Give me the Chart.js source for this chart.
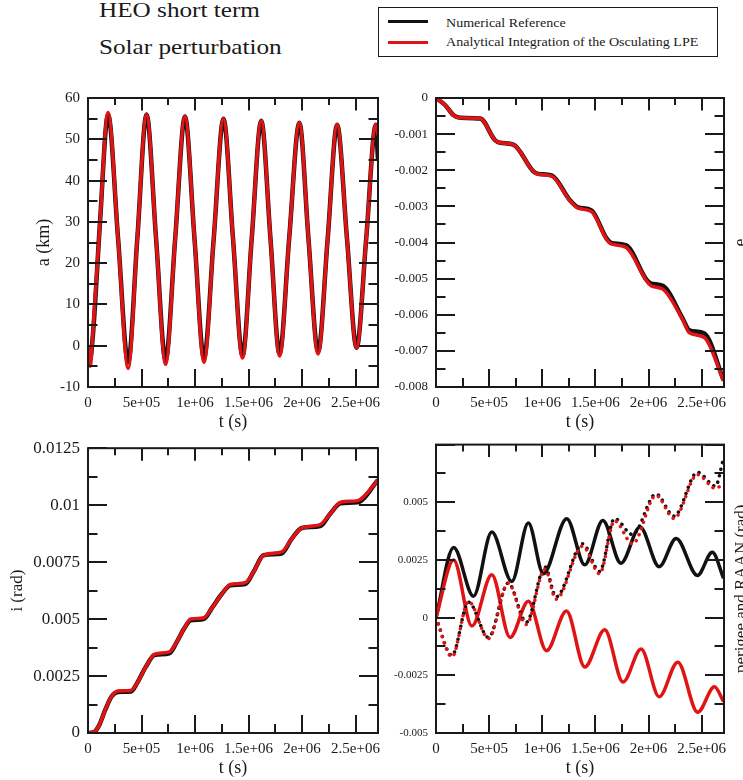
<!DOCTYPE html>
<html><head><meta charset="utf-8">
<script src="https://cdn.jsdelivr.net/npm/chart.js@4.4.1/dist/chart.umd.min.js"></script>
<style>
html,body{margin:0;padding:0;background:#fff;}
#page{position:relative;width:743px;height:780px;overflow:hidden;background:#fff;font-family:'Liberation Serif','Times New Roman',serif;color:#1a1a1a;}
canvas{position:absolute;}
.ttl{position:absolute;left:99px;font-size:21px;line-height:21px;white-space:nowrap;transform:scaleX(1.2);transform-origin:0 0;}
#legend{position:absolute;left:378px;top:7px;width:338px;height:48px;border:1.5px solid #1a1a1a;}
.lg{position:absolute;left:9px;width:40px;height:3px;}
.lt{position:absolute;left:67px;font-size:13px;line-height:13px;white-space:nowrap;transform:scaleX(1.08);transform-origin:0 0;}
</style></head>
<body><div id="page">
<div class="ttl" style="top:0px">HEO short term</div>
<div class="ttl" style="top:37px">Solar perturbation</div>
<div id="legend">
 <div class="lg" style="top:12px;background:#111"></div>
 <div class="lt" style="top:7.5px">Numerical Reference</div>
 <div class="lg" style="top:33px;background:#e01414"></div>
 <div class="lt" style="top:27px">Analytical Integration of the Osculating LPE</div>
</div>
<canvas id="cA" width="390" height="360" style="left:0;top:80px"></canvas>
<canvas id="cE" width="353" height="360" style="left:390px;top:80px"></canvas>
<canvas id="cI" width="390" height="350" style="left:0;top:430px"></canvas>
<canvas id="cP" width="353" height="350" style="left:390px;top:430px"></canvas>
</div>
<script>
// ---------- shared time axis ----------
const tMax = 2.71e6;
const tMajor = [0, 5e5, 1e6, 1.5e6, 2e6, 2.5e6];
const tMinor = [2.5e5, 7.5e5, 1.25e6, 1.75e6, 2.25e6];
const tLabels = ['0', '5e+05', '1e+06', '1.5e+06', '2e+06', '2.5e+06'];

// ---------- panel a (km) ----------
const aMajor = [-10, 0, 10, 20, 30, 40, 50, 60];
const aMinor = [-5, 5, 15, 25, 35, 45, 55];
const aLabels = ['-10', '0', '10', '20', '30', '40', '50', '60'];
const tA = [0, 2.0e4, 5.0e4, 1.1e5, 1.875e5, 2.81e5, 3.75e5, 4.61e5, 5.47e5, 6.36e5, 7.25e5, 8.15e5, 9.06e5, 9.95e5, 1.084e6, 1.175e6, 1.266e6, 1.355e6, 1.444e6, 1.53e6, 1.619e6, 1.705e6, 1.79e6, 1.88e6, 1.975e6, 2.06e6, 2.15e6, 2.24e6, 2.328e6, 2.42e6, 2.51e6, 2.60e6, 2.69e6, 2.71e6];
const aNum = [0, -3, 4, 29, 56, 26, -4, 26, 56, 26, -3.5, 26, 55.5, 26, -3, 26, 55, 26, -2.5, 26, 54.5, 26, -2, 26, 54, 26, -1.5, 26, 53.5, 26, -0.5, 26, 53.5, 45];
const aAna = [0, -5, 5, 29, 56.5, 26, -5.5, 26, 56, 26, -4.5, 26, 55.5, 26, -4, 26, 55, 26, -3, 26, 54.5, 26, -2.5, 26, 54, 26, -2, 26, 53.5, 26, -0.5, 26, 53.5, 51];

// ---------- panel e ----------
const eMajor = [0, -0.001, -0.002, -0.003, -0.004, -0.005, -0.006, -0.007, -0.008];
const eMinor = [-0.0005, -0.0015, -0.0025, -0.0035, -0.0045, -0.0055, -0.0065, -0.0075];
const eLabels = ['0', '-0.001', '-0.002', '-0.003', '-0.004', '-0.005', '-0.006', '-0.007', '-0.008'];
const tE = [0, 8.75e4, 1.66e5, 2.28e5, 4.16e5, 5.56e5, 6.03e5, 7.28e5, 9.16e5, 9.6e5, 1.0875e6, 1.26e6, 1.3375e6, 1.4625e6, 1.603e6, 1.65e6, 1.79e6, 1.98e6, 2.025e6, 2.134e6, 2.32e6, 2.384e6, 2.525e6, 2.706e6];
const eNum = [0, -0.0002, -0.00048, -0.00055, -0.00057, -0.00117, -0.00124, -0.00129, -0.00203, -0.0021, -0.00214, -0.00283, -0.00303, -0.00311, -0.00388, -0.00401, -0.00408, -0.00503, -0.00514, -0.0052, -0.0061, -0.00643, -0.00652, -0.00781];
const eAna = [0, -0.0002, -0.00048, -0.00055, -0.00057, -0.00117, -0.00124, -0.00129, -0.00203, -0.00211, -0.00216, -0.00284, -0.00305, -0.00314, -0.0039, -0.00404, -0.00414, -0.00506, -0.0052, -0.00529, -0.00613, -0.0065, -0.00663, -0.00783];

// ---------- panel i (rad) ----------
const iMajor = [0, 0.0025, 0.005, 0.0075, 0.01, 0.0125];
const iMinor = [0.00125, 0.00375, 0.00625, 0.00875, 0.01125];
const iLabels = ['0', '0.0025', '0.005', '0.0075', '0.01', '0.0125'];
const tI = [0, 5e4, 1.0e5, 1.6e5, 2.2e5, 2.8e5, 4.0e5, 4.6e5, 5.4e5, 6.2e5, 7.6e5, 8.3e5, 9.0e5, 9.6e5, 1.08e6, 1.16e6, 1.25e6, 1.33e6, 1.47e6, 1.55e6, 1.64e6, 1.81e6, 1.90e6, 2.0e6, 2.17e6, 2.26e6, 2.36e6, 2.52e6, 2.71e6];
const iNum = [0, 0.00002, 0.0003, 0.0010, 0.0016, 0.00180, 0.00182, 0.0022, 0.0029, 0.00342, 0.0035, 0.0040, 0.0046, 0.00495, 0.0050, 0.0055, 0.0061, 0.00648, 0.00654, 0.0071, 0.0078, 0.00788, 0.0085, 0.0090, 0.00908, 0.0096, 0.01008, 0.01013, 0.0111];
const iAna = [0, 0.00003, 0.0003, 0.0010, 0.0016, 0.00184, 0.00187, 0.0022, 0.0029, 0.00345, 0.00356, 0.0040, 0.0046, 0.0050, 0.00505, 0.0055, 0.0061, 0.00652, 0.0066, 0.0071, 0.0078, 0.00795, 0.0085, 0.0090, 0.00915, 0.0096, 0.01013, 0.0102, 0.0111];

// ---------- panel perigee and RAAN (rad) ----------
const pMajor = [-0.005, -0.0025, 0, 0.0025, 0.005, 0.0075];
const pMinor = [-0.00375, -0.00125, 0.00125, 0.00375, 0.00625];
const pLabelVals = [-0.005, -0.0025, 0, 0.0025, 0.005];
const pLabels = ['-0.005', '-0.0025', '0', '0.0025', '0.005'];
const tPN = [0, 1.66e5, 3.53e5, 5.25e5, 7.13e5, 8.69e5, 1.01e6, 1.23e6, 1.40e6, 1.57e6, 1.74e6, 1.92e6, 2.10e6, 2.26e6, 2.46e6, 2.60e6, 2.706e6];
const perNum = [0, 0.00304, 0.00093, 0.00371, 0.00157, 0.0041, 0.0019, 0.00429, 0.00229, 0.00421, 0.00236, 0.00393, 0.00221, 0.00343, 0.00183, 0.00283, 0.00171];
const tPA = [0, 1.66e5, 3.38e5, 5.25e5, 6.97e5, 8.69e5, 1.04e6, 1.228e6, 1.40e6, 1.5875e6, 1.76e6, 1.93e6, 2.10e6, 2.275e6, 2.4625e6, 2.62e6, 2.706e6];
const perAna = [0, 0.0025, -0.00036, 0.00186, -0.00086, 0.00071, -0.00143, 0.00029, -0.00214, -0.00053, -0.00279, -0.00136, -0.00343, -0.00193, -0.0041, -0.003, -0.00364];
const tR = [0, 1.5e5, 3.06e5, 4.94e5, 6.8e5, 8.5e5, 1.025e6, 1.13e6, 1.38e6, 1.54e6, 1.68e6, 1.85e6, 2.07e6, 2.24e6, 2.46e6, 2.63e6, 2.70e6];
const raanNum = [0, -0.00164, 0.00067, -0.00086, 0.0015, -0.0002, 0.0022, 0.0009, 0.0032, 0.002, 0.0043, 0.0036, 0.00536, 0.0044, 0.0063, 0.0057, 0.0068];
const raanAna = [0, -0.0017, 0.0007, -0.0009, 0.0015, -0.0003, 0.0021, 0.0008, 0.0031, 0.0019, 0.0042, 0.0032, 0.0053, 0.0043, 0.0062, 0.0056, 0.0058];

// ---------- helpers ----------
const INK = '#1a1a1a';
const BLACK = '#111111';
const RED = '#e01414';
Chart.defaults.font.family = "'Liberation Serif', 'Times New Roman', serif";
Chart.defaults.color = INK;

const pts = (xs, ys) => xs.map((x, i) => ({x: x, y: ys[i]}));
function solid(data, color, width, order) {
  return {data, borderColor: color, borderWidth: width, order, pointRadius: 0, fill: false, cubicInterpolationMode: 'monotone'};
}
function dotted(data, color, order) {
  return {data, borderColor: color, borderWidth: 3.5, borderDash: [0.1, 6.5], borderCapStyle: 'round', order, pointRadius: 0, fill: false, cubicInterpolationMode: 'monotone'};
}

function framePlugin(c) {
  return {
    id: 'frame_' + c.id,
    afterDraw(chart) {
      const ctx = chart.ctx;
      const {left, right, top, bottom} = chart.chartArea;
      const x = chart.scales.x, y = chart.scales.y;
      ctx.save();
      ctx.strokeStyle = INK;
      ctx.lineWidth = 2;
      ctx.lineCap = 'butt';
      const xt = (vals, lb, lt) => vals.forEach(v => {
        const px = Math.round(x.getPixelForValue(v));
        if (px < left - 0.5 || px > right + 0.5) return;
        ctx.beginPath();
        ctx.moveTo(px, bottom); ctx.lineTo(px, bottom - lb);
        ctx.moveTo(px, top); ctx.lineTo(px, top + lt);
        ctx.stroke();
      });
      const yt = (vals, len) => vals.forEach(v => {
        const py = Math.round(y.getPixelForValue(v));
        if (py < top - 0.5 || py > bottom + 0.5) return;
        ctx.beginPath();
        ctx.moveTo(left, py); ctx.lineTo(left + len, py);
        ctx.moveTo(right, py); ctx.lineTo(right - len, py);
        ctx.stroke();
      });
      xt(tMajor, 18, 12.5);
      xt(tMinor, 9, 7);
      yt(c.yMajor, 19);
      yt(c.yMinor, 9.5);
      ctx.strokeRect(left, top, right - left, bottom - top);
      if (c.rightTitle) {
        ctx.fillStyle = INK;
        ctx.font = c.rightTitleSize + "px 'Liberation Serif', serif";
        ctx.translate(c.rightTitleX, (top + bottom) / 2);
        ctx.rotate(-Math.PI / 2);
        ctx.textAlign = 'center';
        ctx.textBaseline = 'alphabetic';
        ctx.fillText(c.rightTitle, 0, 0);
      }
      ctx.restore();
    }
  };
}

function makePanel(c) {
  return new Chart(document.getElementById(c.id), {
    type: 'line',
    data: {datasets: c.datasets},
    options: {
      responsive: false,
      animation: false,
      events: [],
      layout: {padding: {top: c.padTop, right: c.padRight, left: 0, bottom: 0}},
      plugins: {legend: {display: false}, tooltip: {enabled: false}},
      scales: {
        x: {
          type: 'linear', min: 0, max: tMax,
          grid: {display: false, drawTicks: false},
          border: {display: false},
          afterBuildTicks: s => { s.ticks = tMajor.map(v => ({value: v})); },
          afterFit: s => { s.height = c.xAxisH; },
          ticks: {padding: 7, autoSkip: false, maxRotation: 0, includeBounds: false,
                  font: {size: 15}, color: INK,
                  callback: v => tLabels[tMajor.indexOf(v)]},
          title: {display: true, text: 't (s)', font: {size: 18}, color: INK,
                  padding: {top: 0, bottom: c.xTitlePad}}
        },
        y: {
          type: 'linear', min: c.yMin, max: c.yMax,
          grid: {display: false, drawTicks: false},
          border: {display: false},
          afterBuildTicks: s => { s.ticks = c.yLabelVals.map(v => ({value: v})); },
          afterFit: s => { s.width = c.yAxisW; },
          ticks: {padding: 8, autoSkip: false, includeBounds: false,
                  font: {size: c.yFont}, color: INK,
                  callback: v => c.yLabels[c.yLabelVals.indexOf(v)]},
          title: {display: !!c.yTitle, text: c.yTitle || '', font: {size: c.yTitleSize || 18}, color: INK,
                  padding: {top: c.yTitlePad || 0, bottom: 0}}
        }
      }
    },
    plugins: [framePlugin(c)]
  });
}

makePanel({
  id: 'cA', padTop: 18, padRight: 12, xAxisH: 53, yAxisW: 88, xTitlePad: 7,
  yMin: -10, yMax: 60, yMajor: aMajor, yMinor: aMinor, yLabelVals: aMajor, yLabels: aLabels, yFont: 15,
  yTitle: 'a (km)', yTitleSize: 18, yTitlePad: 33,
  datasets: [solid(pts(tA, aAna), RED, 3.5, 0), solid(pts(tA, aNum), BLACK, 4.5, 1)]
});
makePanel({
  id: 'cE', padTop: 18, padRight: 19, xAxisH: 53, yAxisW: 46, xTitlePad: 7,
  yMin: -0.008, yMax: 0, yMajor: eMajor, yMinor: eMinor, yLabelVals: eMajor, yLabels: eLabels, yFont: 13,
  rightTitle: 'e', rightTitleX: 356, rightTitleSize: 18,
  datasets: [solid(pts(tE, eAna), RED, 3.5, 0), solid(pts(tE, eNum), BLACK, 4.5, 1)]
});
makePanel({
  id: 'cI', padTop: 14, padRight: 12, xAxisH: 47, yAxisW: 88, xTitlePad: 1,
  yMin: 0, yMax: 0.0125, yMajor: iMajor, yMinor: iMinor, yLabelVals: iMajor, yLabels: iLabels, yFont: 17,
  yTitle: 'i (rad)', yTitleSize: 17, yTitlePad: 7,
  datasets: [solid(pts(tI, iAna), RED, 3.5, 0), solid(pts(tI, iNum), BLACK, 4.5, 1)]
});
makePanel({
  id: 'cP', padTop: 14, padRight: 19, xAxisH: 47, yAxisW: 46, xTitlePad: 1,
  yMin: -0.005, yMax: 0.0075, yMajor: pMajor, yMinor: pMinor, yLabelVals: pLabelVals, yLabels: pLabels, yFont: 11,
  rightTitle: 'perigee and RAAN (rad)', rightTitleX: 356, rightTitleSize: 17,
  datasets: [
    dotted(pts(tR, raanAna), RED, 0),
    dotted(pts(tR, raanNum), BLACK, 1),
    solid(pts(tPA, perAna), RED, 3.5, 2),
    solid(pts(tPN, perNum), BLACK, 3.5, 3)
  ]
});
</script>
</body></html>
